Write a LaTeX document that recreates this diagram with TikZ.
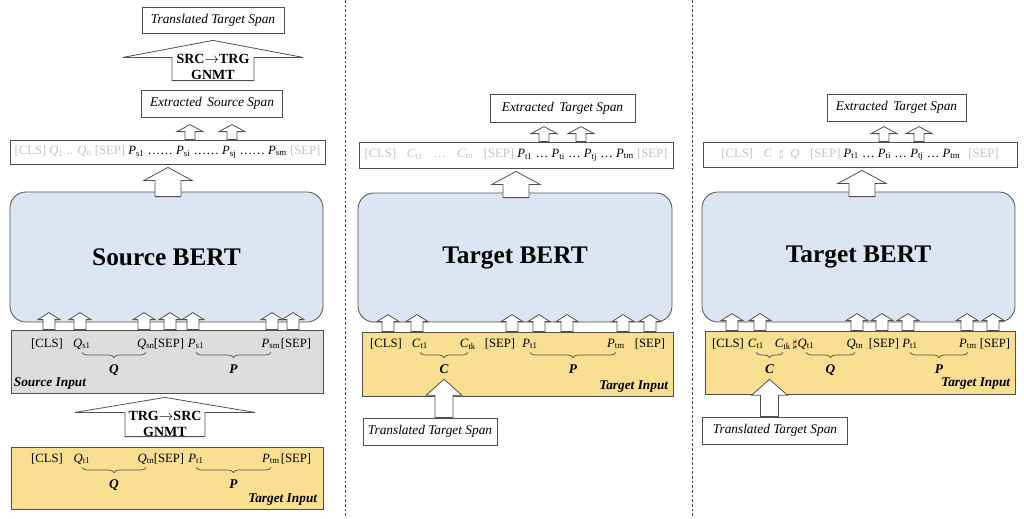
\documentclass[tikz,border=0pt]{standalone}
\usepackage{fontspec}
\setmainfont{Liberation Serif}
\usetikzlibrary{calc,decorations.pathreplacing}

\definecolor{bertblue}{RGB}{220,230,242}
\definecolor{inyellow}{RGB}{250,222,145}
\definecolor{ingray}{RGB}{221,221,221}
\definecolor{ghost}{RGB}{195,195,195}
\definecolor{edge}{RGB}{80,80,80}

\newcommand{\tk}[2]{\textit{#1}\textsubscript{#2}}
\newcommand{\gt}[1]{\textcolor{ghost}{#1}}
\newcommand{\tokfont}{\fontsize{9.5}{11}\selectfont}
\newcommand{\pxu}{0.75pt}
% block arrow: bottom, tip, half shaft, half head, head length (px)
\newcommand{\uparr}[5]{%
\draw[barrow] let \p1=#1, \p2=#2 in
 (\x1-#3*\pxu,\y1) -- (\x1-#3*\pxu,\y2-#5*\pxu) -- (\x1-#4*\pxu,\y2-#5*\pxu) -- (\x1,\y2)
 -- (\x1+#4*\pxu,\y2-#5*\pxu) -- (\x1+#3*\pxu,\y2-#5*\pxu) -- (\x1+#3*\pxu,\y1) -- cycle;}

\tikzset{
 spanbox/.style={draw=edge, line width=0.6pt, fill=white, font=\fontsize{10}{12}\selectfont\itshape, inner sep=0pt},
 seqbox/.style={draw=edge, line width=0.6pt, fill=white, font=\tokfont, inner sep=0pt},
 bertbox/.style={draw=edge, line width=0.6pt, fill=bertblue, rounded corners=12pt, font=\fontsize{19}{22}\selectfont\bfseries},
 inbox/.style={draw=edge, line width=0.6pt, inner sep=0pt},
 tok/.style={anchor=base, inner sep=0pt, font=\tokfont, text depth=2pt},
 brc/.style={decorate, decoration={brace, mirror, amplitude=4pt}, draw=edge, line width=0.5pt},
 lbl/.style={inner sep=1pt, font=\fontsize{10}{12}\selectfont\bfseries\itshape},
 inlbl/.style={inner sep=0pt, font=\fontsize{10}{12}\selectfont\bfseries\itshape},
 barrow/.style={draw=edge, fill=white, line width=0.6pt, line join=miter},
 gnmt/.style={align=center, font=\fontsize{10.5}{11.5}\selectfont\bfseries, inner sep=0pt},
 divider/.style={dash pattern=on 2pt off 1.5pt, draw=edge, line width=0.6pt}
}

\begin{document}
\begin{tikzpicture}[x=0.75pt,y=-0.75pt]
\useasboundingbox (0,0) rectangle (1024,518);

%% source side
\node[spanbox, minimum width=106.5pt, minimum height=19.5pt] (tts1) at (213,20) {Translated Target Span};
\node[spanbox, minimum width=105.75pt, minimum height=20.25pt] (ess1) at (212,103.5) {Extracted\, Source Span};
\node[seqbox, minimum width=236.25pt, minimum height=18pt] (seq1) at (167.5,152)
 {\gt{[CLS] \tk{Q}{1} .. \tk{Q}{n} [SEP]} \tk{P}{s1} \dots\dots{} \tk{P}{si} \dots\dots{} \tk{P}{sj} \dots\dots{} \tk{P}{sm} \gt{[SEP]}};
\node[bertbox, minimum width=234.75pt, minimum height=97.5pt] (bert1) at (166.5,257) {Source BERT};
\node[inbox, fill=ingray, minimum width=234pt, minimum height=47.25pt] (sin1) at (167,361.5) {};
\node[inbox, fill=inyellow, minimum width=234pt, minimum height=46.5pt] (tin1) at (167,478) {};

\foreach \nm/\xx/\txt in {cls/47/[CLS], qa/82/\tk{Q}{s1}, qb/146/\tk{Q}{sn}, sepa/169/[SEP], pa/196/\tk{P}{s1}, pb/271/\tk{P}{sm}, sepb/296/[SEP]}
\node[tok] (s\nm) at (\xx,347) {\txt};
\foreach \nm/\xx/\txt in {cls/47/[CLS], qa/82/\tk{Q}{t1}, qb/146/\tk{Q}{tn}, sepa/169/[SEP], pa/196/\tk{P}{t1}, pb/271/\tk{P}{tm}, sepb/296/[SEP]}
\node[tok] (t\nm) at (\xx,462) {\txt};

\draw[brc] ([yshift=-4pt]sqa.base) -- ([yshift=-4pt]sqb.base) node[lbl, midway, below=8pt] (sq) {Q};
\draw[brc] ([yshift=-4pt]spa.base) -- ([yshift=-4pt]spb.base) node[lbl, midway, below=8pt] (sp) {P};
\draw[brc] ([yshift=-4pt]tqa.base) -- ([yshift=-4pt]tqb.base) node[lbl, midway, below=8pt] (tq) {Q};
\draw[brc] ([yshift=-4pt]tpa.base) -- ([yshift=-4pt]tpb.base) node[lbl, midway, below=8pt] (tp) {P};
\node[inlbl, anchor=south west] at ([shift={(3,-4)}]sin1.south west) {Source Input};
\node[inlbl, anchor=south east] at ([shift={(-6,-4)}]tin1.south east) {Target Input};

\uparr{($(213,0 |- ess1.north)+(0,-9)$)}{($(213,0 |- tts1.south)+(0,7)$)}{41}{90}{17}
\node[gnmt] (gnmt1) at (213,67) {SRC$\rightarrow$TRG\\GNMT};
\uparr{($(165,0 |- tin1.north)+(0,-10)$)}{($(165,0 |- sin1.south)+(0,4)$)}{40}{90}{15}
\node[gnmt] (gnmt2) at (165,424) {TRG$\rightarrow$SRC\\GNMT};
\foreach \ax in {190,232}{
\uparr{(\ax,0 |- seq1.north)}{($(\ax,0 |- seq1.north)+(0,-15)$)}{5}{13}{7}}
\uparr{($(168,0 |- bert1.north)+(0,5)$)}{($(168,0 |- seq1.south)+(0,3)$)}{13}{24}{13}
\foreach \ax in {49,80,144,170,193,272,293}{
\uparr{(\ax,0 |- sin1.north)}{($(\ax,0 |- sin1.north)+(0,-17)$)}{6}{11}{7}}

\draw[divider] (345,0) -- (345,518);
\draw[divider] (692,0) -- (692,518);

%% target side, C and P
\node[spanbox, minimum width=108.75pt, minimum height=21pt] (ets2) at (562.5,108) {Extracted\, Target Span};
\node[seqbox, minimum width=235.5pt, minimum height=19.5pt] (seq2) at (516,155)
 {\gt{[CLS]\hspace{8pt}\tk{C}{t1}\hspace{8pt}\dots\hspace{8pt}\tk{C}{tn}\hspace{8pt}[SEP]} \tk{P}{t1} \dots{} \tk{P}{ti} \dots{} \tk{P}{tj} \dots{} \tk{P}{tm} \gt{[SEP]}};
\node[bertbox, minimum width=235.5pt, minimum height=96.75pt] (bert2) at (515,257.5) {Target BERT};
\node[inbox, fill=inyellow, minimum width=233.25pt, minimum height=48pt] (tin2) at (517.5,364) {};
\node[spanbox, minimum width=100.5pt, minimum height=20.25pt] (tts2) at (430,431.5) {Translated Target Span};

\foreach \nm/\xx/\txt in {cls/386/[CLS], ca/420/\tk{C}{t1}, cb/468/\tk{C}{tk}, sepa/500/[SEP], pa/530/\tk{P}{t1}, pb/616/\tk{P}{tm}, sepb/650/[SEP]}
\node[tok] (m\nm) at (\xx,347) {\txt};
\draw[brc] ([yshift=-4pt]mca.base) -- ([yshift=-4pt]mcb.base) node[lbl, midway, below=8pt] (mc) {C};
\draw[brc] ([yshift=-4pt]mpa.base) -- ([yshift=-4pt]mpb.base) node[lbl, midway, below=8pt] (mp) {P};
\node[inlbl, anchor=south east] at ([shift={(-5,-4)}]tin2.south east) {Target Input};

\foreach \ax in {544,581}{
\uparr{(\ax,0 |- seq2.north)}{($(\ax,0 |- seq2.north)+(0,-15)$)}{5}{13}{7}}
\uparr{($(516,0 |- bert2.north)+(0,5)$)}{($(516,0 |- seq2.south)+(0,3)$)}{13}{24}{13}
\foreach \ax in {388,417,512,539,567,623,650}{
\uparr{(\ax,0 |- tin2.north)}{($(\ax,0 |- tin2.north)+(0,-17)$)}{6}{11}{7}}
\uparr{(mc.south |- tts2.north)}{($(mc.south)+(0,4)$)}{9}{18}{16}

%% target side, C, Q and P
\node[spanbox, minimum width=104.25pt, minimum height=20.25pt] (ets3) at (896.5,107.5) {Extracted\, Target Span};
\node[seqbox, minimum width=235.5pt, minimum height=18.75pt] (seq3) at (860,154.5)
 {\gt{[CLS]\hspace{8pt}\textit{C}\hspace{5pt}$\sharp$\hspace{5pt}\textit{Q}\hspace{8pt}[SEP]} \tk{P}{t1} \dots{} \tk{P}{ti} \dots{} \tk{P}{tj} \dots{} \tk{P}{tm}\hspace{6pt}\gt{[SEP]}};
\node[bertbox, minimum width=234.75pt, minimum height=97.5pt] (bert3) at (858.5,257) {Target BERT};
\node[inbox, fill=inyellow, minimum width=232.5pt, minimum height=47.25pt] (tin3) at (860,362.5) {};
\node[spanbox, minimum width=108.75pt, minimum height=20.25pt] (tts3) at (775,430.5) {Translated Target Span};

\foreach \nm/\xx/\txt in {cls/728/[CLS], ca/756/\tk{C}{t1}, cb/783/\tk{C}{tk}, sh/795/$\sharp$, qa/806/\tk{Q}{t1}, qb/855/\tk{Q}{tn}, sepa/884/[SEP], pa/910/\tk{P}{t1}, pb/968/\tk{P}{tm}, sepb/995/[SEP]}
\node[tok] (r\nm) at (\xx,347) {\txt};
\draw[brc] ([yshift=-4pt]rca.base) -- ([yshift=-4pt]rcb.base) node[lbl, midway, below=8pt] (rc) {C};
\draw[brc] ([yshift=-4pt]rqa.base) -- ([yshift=-4pt]rqb.base) node[lbl, midway, below=8pt] (rq) {Q};
\draw[brc] ([yshift=-4pt]rpa.base) -- ([yshift=-4pt]rpb.base) node[lbl, midway, below=8pt] (rp) {P};
\node[inlbl, anchor=south east] at ([shift={(-5,-5)}]tin3.south east) {Target Input};

\foreach \ax in {884,919}{
\uparr{(\ax,0 |- seq3.north)}{($(\ax,0 |- seq3.north)+(0,-15)$)}{5}{13}{7}}
\uparr{($(862,0 |- bert3.north)+(0,5)$)}{($(862,0 |- seq3.south)+(0,3)$)}{13}{24}{13}
\foreach \ax in {732,760,857,882,908,967,993}{
\uparr{(\ax,0 |- tin3.north)}{($(\ax,0 |- tin3.north)+(0,-17)$)}{6}{11}{7}}
\uparr{(rc.south |- tts3.north)}{($(rc.south)+(0,4)$)}{9}{18}{16}

\end{tikzpicture}
\end{document}
